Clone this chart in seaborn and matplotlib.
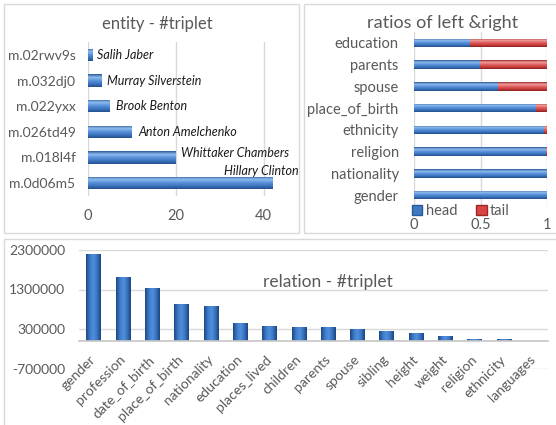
import numpy as np
import pandas as pd
import matplotlib
matplotlib.use("Agg")
import matplotlib.pyplot as plt
import seaborn as sns
from matplotlib.patches import Rectangle, Patch
from matplotlib.colors import LinearSegmentedColormap

# ---------------- data ----------------
ent_ids = ["m.02rwv9s", "m.032dj0", "m.022yxx", "m.026td49", "m.018l4f", "m.0d06m5"]
ent_names = ["Salih Jaber", "Murray Silverstein", "Brook Benton", "Anton Amelchenko",
             "Whittaker Chambers", "Hillary Clinton"]
ent_triplets = [1, 3, 5, 10, 20, 42]

ratio_rel = ["education", "parents", "spouse", "place_of_birth", "ethnicity",
             "religion", "nationality", "gender"]
head_ratio = [0.42, 0.49, 0.63, 0.915, 0.97, 0.99, 1.0, 1.0]
tail_ratio = [0.58, 0.51, 0.37, 0.085, 0.03, 0.01, 0.0, 0.0]

rel_names = ["gender", "profession", "date_of_birth", "place_of_birth", "nationality",
             "education", "places_lived", "children", "parents", "spouse", "sibling",
             "height", "weight", "religion", "ethnicity", "languages"]
rel_triplets = [2200000, 1620000, 1350000, 940000, 870000, 450000, 380000, 340000,
                350000, 300000, 250000, 195000, 125000, 45000, 45000, 6000]

rel_ticks = [-700000, 300000, 1300000, 2300000]
ent_ticks = [0, 20, 40]
ratio_ticks = [0, 0.5, 1]
ratio_ticklabels = ["0", "0.5", "1"]

# ---------------- style ----------------
sns.set_theme(style="white")
plt.rcParams["font.family"] = ["Lato", "DejaVu Sans"]
TXT = "#595959"
GRID = "#d9d9d9"
BLUE = "#4178c4"
RED = "#d94444"
BLUE_H = ["#2a5a98", "#8fbcef", "#5a92da", "#3d75c0", "#22508c"]
RED_H = ["#9a2a2a", "#f3a0a0", "#e25e5e", "#cc4040", "#8c2020"]
BLUE_V = ["#1d4782", "#3c78c6", "#5090dc", "#3a74c0", "#1b4580"]

W, H = 556, 425
fig = plt.figure(figsize=(W / 100, H / 100), dpi=100)
fig.patch.set_facecolor("white")


def box(l, t, r, b):
    return [l / W, 1 - b / H, (r - l) / W, (b - t) / H]


for (l, t, r, b) in [(4, 4, 299, 233), (304, 4, 620, 233), (4, 239, 620, 480)]:
    fig.patches.append(Rectangle((l / W, 1 - b / H), (r - l) / W, (b - t) / H,
                                 transform=fig.transFigure, fill=False,
                                 ec=GRID, lw=1, zorder=0))


def shade(ax, patches, colors, across_x):
    cmap = LinearSegmentedColormap.from_list("g", colors)
    xl, yl = ax.get_xlim(), ax.get_ylim()
    for p in patches:
        x0, y0, w, h = p.get_x(), p.get_y(), p.get_width(), p.get_height()
        if w == 0 or h == 0:
            continue
        if across_x:
            grad = np.linspace(0, 1, 64).reshape(1, -1)
        else:
            grad = np.linspace(0, 1, 64).reshape(-1, 1)
        im = ax.imshow(grad, extent=(x0, x0 + w, y0, y0 + h), origin="lower",
                       cmap=cmap, aspect="auto", interpolation="bilinear",
                       zorder=p.get_zorder() + 0.1)
        im.set_clip_path(p)
    ax.set_xlim(xl)
    ax.set_ylim(yl)
    ax.set_aspect("auto")


def clean(ax):
    for s in ax.spines.values():
        s.set_visible(False)
    ax.tick_params(length=0, colors=TXT)
    ax.set_xlabel("")
    ax.set_ylabel("")


# ---------------- entity - #triplet ----------------
ax1 = fig.add_axes(box(88, 42, 290, 196))
sns.barplot(x=ent_triplets, y=ent_ids, orient="h", color=BLUE, width=0.48,
            linewidth=0, ax=ax1)
clean(ax1)
ax1.set_xlim(0, 46)
ax1.set_xticks(ent_ticks)
ax1.xaxis.grid(True, color=GRID, lw=1)
ax1.set_axisbelow(True)
ax1.tick_params(axis="y", labelsize=10, pad=9)
ax1.tick_params(axis="x", labelsize=10.5, pad=9)
p1 = list(ax1.patches)
shade(ax1, p1, BLUE_H, False)
ax1.set_xlim(0, 46)
offsets = [(3.5, 0), (4.5, 0), (4.5, 0), (4.5, 0), (4, 3), (19, 9)]
for i, (name, val) in enumerate(zip(ent_names, ent_triplets)):
    dx, dy = offsets[i]
    ha = "right" if i == 5 else "left"
    ax1.annotate(name, (val, i), xytext=(dx, dy), textcoords="offset points",
                 ha=ha, va="center", fontsize=9, fontstyle="italic",
                 color="#1a1a1a", annotation_clip=False)
fig.text(157 / W, 1 - 24 / H, "entity - #triplet", ha="center", va="center",
         fontsize=12, color=TXT)

# ---------------- ratios of left & right ----------------
ax2 = fig.add_axes(box(414, 32, 547, 206))
totals = [h + t for h, t in zip(head_ratio, tail_ratio)]
sns.barplot(x=totals, y=ratio_rel, orient="h", color=RED, width=0.4,
            linewidth=0, ax=ax2)
n_red = len(ax2.patches)
sns.barplot(x=head_ratio, y=ratio_rel, orient="h", color=BLUE, width=0.4,
            linewidth=0, ax=ax2)
clean(ax2)
ax2.set_xlim(0, 1)
ax2.set_xticks(ratio_ticks)
ax2.set_xticklabels(ratio_ticklabels)
ax2.xaxis.grid(True, color=GRID, lw=1)
ax2.set_axisbelow(True)
ax2.tick_params(axis="y", labelsize=10.5, pad=11)
ax2.tick_params(axis="x", labelsize=10.5, pad=9)
pats = list(ax2.patches)
shade(ax2, pats[:n_red], RED_H, False)
shade(ax2, pats[n_red:], BLUE_H, False)
ax2.set_xlim(0, 1)
fig.legend(handles=[Patch(fc=BLUE, ec="#2a5a98", label="head"),
                    Patch(fc=RED, ec="#9a2a2a", label="tail")],
           loc="center left", bbox_to_anchor=(412 / W, 1 - 211 / H), ncol=2,
           frameon=False, fontsize=10.5, handlelength=0.7, handleheight=0.7,
           handletextpad=0.25, columnspacing=1.3, borderpad=0, borderaxespad=0,
           labelcolor=TXT)
fig.text(443 / W, 1 - 23 / H, "ratios of left &right", ha="center", va="center",
         fontsize=13, color=TXT)

# ---------------- relation - #triplet ----------------
ax3 = fig.add_axes(box(79, 250, 548, 368.5))
sns.barplot(x=rel_names, y=rel_triplets, color=BLUE, width=0.5, linewidth=0, ax=ax3)
clean(ax3)
ax3.set_ylim(-700000, 2300000)
ax3.set_yticks(rel_ticks)
ax3.set_yticklabels([str(v) for v in rel_ticks])
ax3.yaxis.grid(True, color=GRID, lw=1)
ax3.set_axisbelow(True)
ax3.spines["bottom"].set_visible(True)
ax3.spines["bottom"].set_position(("data", 0))
ax3.spines["bottom"].set_color("#c8c8c8")
ax3.tick_params(axis="y", labelsize=10, pad=10)
ax3.tick_params(axis="x", labelsize=10, pad=12)
for lab in ax3.get_xticklabels():
    lab.set_rotation(45)
    lab.set_ha("right")
    lab.set_va("center")
    lab.set_rotation_mode("anchor")
shade(ax3, list(ax3.patches), BLUE_V, True)
ax3.text(0.53, 0.73, "relation - #triplet", transform=ax3.transAxes, ha="center",
         va="center", fontsize=12.5, color=TXT)

fig.savefig("out.png", dpi=100, facecolor="white")
